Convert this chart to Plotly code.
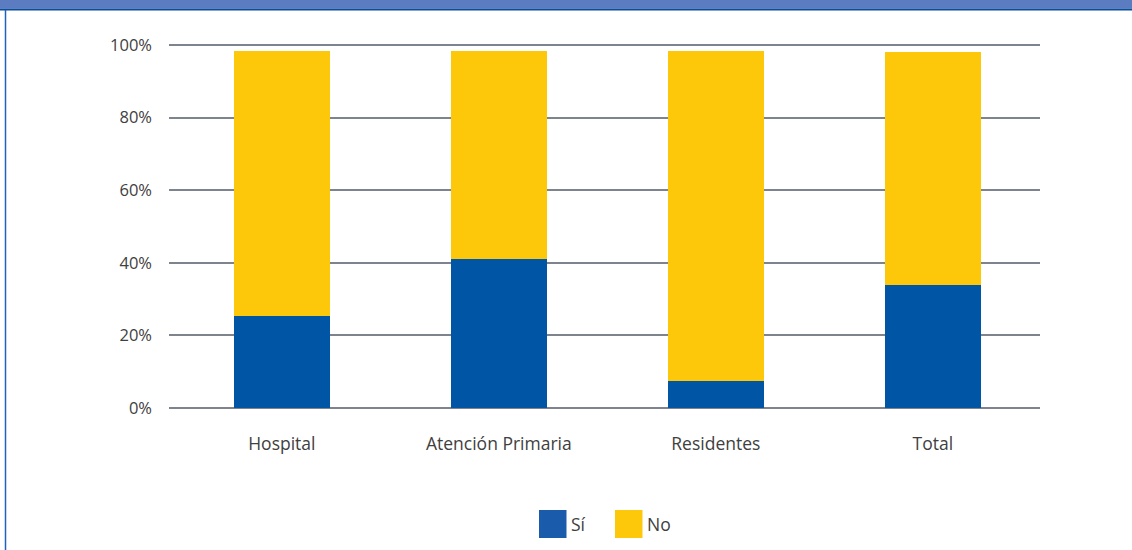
import plotly.graph_objects as go

# Survey results by professional group (share of respondents, %)
categories = ["Hospital", "Atención Primaria", "Residentes", "Total"]
si_values = [25.3, 41.0, 7.4, 33.9]
no_values = [73.0, 57.3, 90.9, 64.2]
series_names = ["Sí", "No"]
y_ticks = [0, 20, 40, 60, 80, 100]
y_tick_labels = ["0%", "20%", "40%", "60%", "80%", "100%"]

BLUE = "#0055A4"
YELLOW = "#FEC80A"
TEXT = "#404040"
FONT = "Open Sans"

W, H = 1132, 550
ML, MR, MT, MB = 169, W - 1040, 43, 140


def px_x(x):
    return (x - ML) / (W - ML - MR)


def px_y(y):
    return (H - MB - y) / (H - MT - MB)


fig = go.Figure()
fig.add_trace(go.Bar(x=categories, y=si_values, name=series_names[0],
                     marker=dict(color=BLUE, line=dict(width=0)), width=0.442))
fig.add_trace(go.Bar(x=categories, y=no_values, name=series_names[1],
                     marker=dict(color=YELLOW, line=dict(width=0)), width=0.442))

shapes = [
    # header band
    dict(type="rect", xref="paper", yref="paper", x0=px_x(0), x1=px_x(W),
         y0=px_y(8.5), y1=px_y(-2), fillcolor="#5B7CC0", line=dict(width=0), layer="below"),
    dict(type="rect", xref="paper", yref="paper", x0=px_x(0), x1=px_x(W),
         y0=px_y(10.5), y1=px_y(8.5), fillcolor="#0B4C9C", line=dict(width=0), layer="below"),
    # left frame line
    dict(type="line", xref="paper", yref="paper", x0=px_x(5.5), x1=px_x(5.5),
         y0=px_y(10), y1=px_y(H + 2), line=dict(color="#1C62BE", width=1.5)),
]

# legend drawn as swatches with labels
legend_items = [(series_names[0], "#1A5CAB", 539), (series_names[1], YELLOW, 615)]
annotations = []
for name, color, x0 in legend_items:
    shapes.append(dict(type="rect", xref="paper", yref="paper",
                       x0=px_x(x0), x1=px_x(x0 + 27.5), y0=px_y(538), y1=px_y(510),
                       fillcolor=color, line=dict(width=0)))
    annotations.append(dict(text=name, xref="paper", yref="paper",
                            x=px_x(x0 + 30), y=px_y(524), xanchor="left", yanchor="middle",
                            showarrow=False, font=dict(family=FONT, size=17.5, color=TEXT)))

fig.update_layout(
    width=W, height=H,
    margin=dict(l=ML, r=MR, t=MT, b=MB),
    barmode="stack",
    plot_bgcolor="white", paper_bgcolor="white",
    showlegend=False,
    shapes=shapes,
    annotations=annotations,
    font=dict(family=FONT, size=16, color=TEXT),
)
fig.update_xaxes(type="category", range=[-0.52, 3.494], showgrid=False, showline=False,
                 ticks="", tickfont=dict(family=FONT, size=17.5, color=TEXT), ticklabelstandoff=21)
fig.update_yaxes(range=[-0.55, 100.55], tickvals=y_ticks, ticktext=y_tick_labels,
                 showgrid=True, gridcolor="#7D848E", gridwidth=1.5, zeroline=False,
                 showline=False, ticks="", ticklabelstandoff=16,
                 tickfont=dict(family=FONT, size=16.5, color=TEXT))

fig.write_html("out.html")
